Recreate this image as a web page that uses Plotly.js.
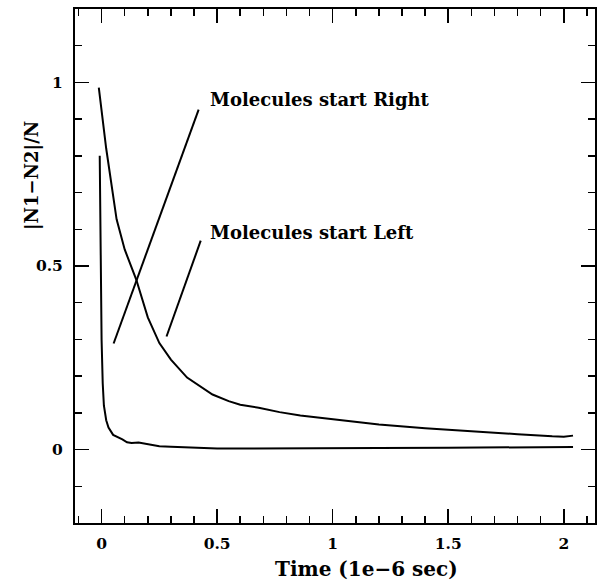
<!DOCTYPE html>
<html><head><meta charset="utf-8">
<script src="https://cdn.plot.ly/plotly-3.0.1.min.js"></script>
<style>html,body{margin:0;padding:0;background:#fff}</style>
</head><body>
<div id="chart" style="width:597px;height:586px"></div>
<script>
// Data
const rightX = [-0.012, 0.02, 0.065, 0.1, 0.15, 0.2, 0.25, 0.3, 0.37, 0.43, 0.48, 0.55, 0.6, 0.68, 0.77, 0.86, 1.0, 1.2, 1.4, 1.6, 1.8, 1.95, 2.0, 2.04];
const rightY = [0.986, 0.82, 0.627, 0.545, 0.463, 0.36, 0.29, 0.245, 0.196, 0.17, 0.15, 0.132, 0.122, 0.114, 0.102, 0.093, 0.082, 0.068, 0.058, 0.049, 0.042, 0.036, 0.035, 0.038];
const leftX = [-0.008, -0.006, -0.004, 0.0, 0.005, 0.01, 0.02, 0.03, 0.05, 0.07, 0.09, 0.11, 0.13, 0.16, 0.2, 0.25, 0.3, 0.4, 0.5, 0.6, 0.8, 1.0, 1.2, 1.5, 1.8, 2.04];
const leftY = [0.80, 0.65, 0.455, 0.3, 0.18, 0.12, 0.08, 0.06, 0.04, 0.035, 0.028, 0.02, 0.018, 0.019, 0.014, 0.009, 0.008, 0.005, 0.003, 0.003, 0.004, 0.003, 0.004, 0.005, 0.005, 0.007];
// Leader lines for labels
const rightLabel = "Molecules start Right";
const leftLabel = "Molecules start Left";
const rightLeaderX = [0.052, 0.42];
const rightLeaderY = [0.289, 0.926];
const leftLeaderX = [0.281, 0.429];
const leftLeaderY = [0.308, 0.569];
const labelX = 0.459;
const rightLabelY = 0.954;
const leftLabelY = 0.591;
const xTickVals = [0, 0.5, 1, 1.5, 2];
const xTickText = ["0", "0.5", "1", "1.5", "2"];
const yTickVals = [0, 0.5, 1];
const yTickText = ["0", "0.5", "1"];
const xTitle = "Time (1e\u22126 sec)";
const yTitle = "|N1\u2212N2|/N";

const labelFont = {family: "DejaVu Serif", size: 18, color: "#000", weight: "bold"};
const lineStyle = {color: "#000", width: 2};

const traces = [
  {x: rightX, y: rightY, mode: "lines", line: lineStyle, name: rightLabel},
  {x: leftX, y: leftY, mode: "lines", line: lineStyle, name: leftLabel},
  {x: rightLeaderX, y: rightLeaderY, mode: "lines", line: lineStyle},
  {x: leftLeaderX, y: leftLeaderY, mode: "lines", line: lineStyle}
];

const axisCommon = {
  showgrid: false, zeroline: false, showline: true, linecolor: "#000", linewidth: 2,
  mirror: "allticks", ticks: "inside", tickcolor: "#000", tickwidth: 1.6, ticklen: 14,
  tickmode: "array", tickfont: {family: "DejaVu Serif", size: 15.5, color: "#000", weight: "bold"}
};

const pw = 597 - 75 - 2, ph = 586 - 9 - 63;
const layout = {
  width: 597, height: 586,
  margin: {l: 75, r: 2, t: 9, b: 63},
  paper_bgcolor: "#fff", plot_bgcolor: "#fff",
  showlegend: false,
  font: labelFont,
  xaxis: Object.assign({}, axisCommon, {
    range: [-0.115, 2.135], tickvals: xTickVals, ticktext: xTickText, ticklabelstandoff: 5,
    minor: {dtick: 0.1, tick0: 0, ticks: "inside", ticklen: 7, tickwidth: 1.5, tickcolor: "#000"}
  }),
  yaxis: Object.assign({}, axisCommon, {
    range: [-0.2, 1.2], tickvals: yTickVals, ticktext: yTickText, ticklabelstandoff: 7,
    minor: {dtick: 0.1, tick0: 0, ticks: "inside", ticklen: 7, tickwidth: 1.5, tickcolor: "#000"}
  }),
  annotations: [
    {x: labelX, y: rightLabelY, xref: "x", yref: "y", text: rightLabel, showarrow: false, xanchor: "left", yanchor: "middle", font: labelFont},
    {x: labelX, y: leftLabelY, xref: "x", yref: "y", text: leftLabel, showarrow: false, xanchor: "left", yanchor: "middle", font: labelFont},
    {x: (366 - 75) / pw, y: (523 - 569) / ph, xref: "paper", yref: "paper", xanchor: "center", yanchor: "middle",
     text: xTitle, showarrow: false, font: {family: "DejaVu Serif", size: 20, color: "#000", weight: "bold"}},
    {x: (32 - 75) / pw, y: (523 - 176) / ph, xref: "paper", yref: "paper", xanchor: "center", yanchor: "middle",
     text: yTitle, showarrow: false, textangle: -90, font: {family: "DejaVu Serif", size: 18, color: "#000", weight: "bold"}}
  ]
};

Plotly.newPlot("chart", traces, layout, {displayModeBar: false, staticPlot: true});
</script>
</body></html>
